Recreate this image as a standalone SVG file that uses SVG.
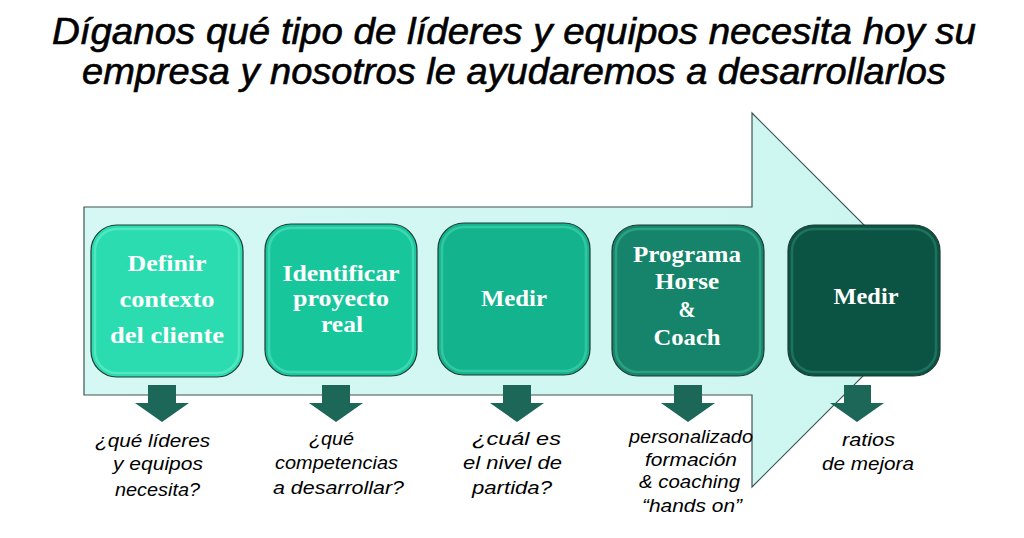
<svg xmlns="http://www.w3.org/2000/svg" width="1024" height="538" viewBox="0 0 1024 538">
<style>
.title{font-family:"Liberation Sans","DejaVu Sans",sans-serif;font-style:italic;font-size:36px;fill:#000;stroke:#000;stroke-width:0.6;text-anchor:start}
.lbl{font-family:"Liberation Serif","DejaVu Serif",serif;font-weight:bold;font-size:24px;fill:#fff;text-anchor:middle}
.note{font-family:"Liberation Sans","DejaVu Sans",sans-serif;font-style:italic;font-size:19px;fill:#000;text-anchor:start}
.box{stroke:#1f3a33;stroke-width:1.2}
.hl{fill:none;stroke-width:2.5;stroke-opacity:0.55}
.dn{fill:#1c6758}
</style>
<defs>
<linearGradient id="bg" x1="0" y1="0" x2="1" y2="0">
<stop offset="0" stop-color="#d6f8f4"/><stop offset="1" stop-color="#cdf6f0"/>
</linearGradient>
</defs>
<rect width="1024" height="538" fill="#fff"/>
<text class="title" x="52" y="44" textLength="924" lengthAdjust="spacingAndGlyphs">Díganos qué tipo de líderes y equipos necesita hoy su</text>
<text class="title" x="82" y="84" textLength="864" lengthAdjust="spacingAndGlyphs">empresa y nosotros le ayudaremos a desarrollarlos</text>
<path id="bigarrow" d="M84,207 H752 V113 L939,300 L752,487 V395 H84 Z" fill="url(#bg)" stroke="#3c5550" stroke-width="1.2"/>
<g id="node1">
<rect class="box" x="91" y="225" width="152" height="152" rx="26" fill="#2adcb0"/>
<rect class="hl" x="95" y="229" width="144" height="144" rx="22" stroke="#6ff0d0"/>
<text class="lbl" x="167" y="271" textLength="79" lengthAdjust="spacingAndGlyphs">Definir</text>
<text class="lbl" x="167" y="307" textLength="95" lengthAdjust="spacingAndGlyphs">contexto</text>
<text class="lbl" x="167" y="343" textLength="114" lengthAdjust="spacingAndGlyphs">del cliente</text>
</g>
<g id="node2">
<rect class="box" x="265" y="224" width="152" height="152" rx="26" fill="#18c69c"/>
<rect class="hl" x="269" y="228" width="144" height="144" rx="22" stroke="#5ce6c2"/>
<text class="lbl" x="341" y="281" textLength="117" lengthAdjust="spacingAndGlyphs">Identificar</text>
<text class="lbl" x="341" y="306" textLength="96" lengthAdjust="spacingAndGlyphs">proyecto</text>
<text class="lbl" x="342" y="332" textLength="42" lengthAdjust="spacingAndGlyphs">real</text>
</g>
<g id="node3">
<rect class="box" x="438" y="223" width="152" height="152" rx="26" fill="#13b48d"/>
<rect class="hl" x="442" y="227" width="144" height="144" rx="22" stroke="#4ad8b2"/>
<text class="lbl" x="514" y="306" textLength="66" lengthAdjust="spacingAndGlyphs">Medir</text>
</g>
<g id="node4">
<rect class="box" x="612" y="225" width="152" height="151" rx="26" fill="#15846a"/>
<rect class="hl" x="616" y="229" width="144" height="143" rx="22" stroke="#40b898"/>
<text class="lbl" x="687" y="262" textLength="108" lengthAdjust="spacingAndGlyphs">Programa</text>
<text class="lbl" x="687" y="289" textLength="64" lengthAdjust="spacingAndGlyphs">Horse</text>
<text class="lbl" x="687" y="317" textLength="17" lengthAdjust="spacingAndGlyphs">&amp;</text>
<text class="lbl" x="687" y="345" textLength="67" lengthAdjust="spacingAndGlyphs">Coach</text>
</g>
<g id="node5">
<rect class="box" x="788" y="225" width="152" height="151" rx="26" fill="#0b5343"/>
<rect class="hl" x="792" y="229" width="144" height="143" rx="22" stroke="#2f8a72"/>
<text class="lbl" x="866" y="304" textLength="65" lengthAdjust="spacingAndGlyphs">Medir</text>
</g>
<g id="connectors">
<path class="dn" d="M148,385 H176 V403 H189 L162,422 L135,403 H148 Z"/>
<path class="dn" d="M322,385 H350 V403 H363 L336,422 L309,403 H322 Z"/>
<path class="dn" d="M503,385 H531 V403 H544 L517,422 L490,403 H503 Z"/>
<path class="dn" d="M674,385 H702 V403 H715 L688,422 L661,403 H674 Z"/>
<path class="dn" d="M844,385 H871 V403 H884 L857,422 L830,403 H844 Z"/>
</g>
<g id="notes">
<text class="note" x="95" y="447" textLength="115" lengthAdjust="spacingAndGlyphs">¿qué líderes</text>
<text class="note" x="113" y="470" textLength="90" lengthAdjust="spacingAndGlyphs">y equipos</text>
<text class="note" x="115" y="496" textLength="85" lengthAdjust="spacingAndGlyphs">necesita?</text>
<text class="note" x="309" y="445" textLength="45" lengthAdjust="spacingAndGlyphs">¿qué</text>
<text class="note" x="275" y="469" textLength="123" lengthAdjust="spacingAndGlyphs">competencias</text>
<text class="note" x="273" y="494" textLength="131" lengthAdjust="spacingAndGlyphs">a desarrollar?</text>
<text class="note" x="472" y="445" textLength="89" lengthAdjust="spacingAndGlyphs">¿cuál es</text>
<text class="note" x="463" y="469" textLength="99" lengthAdjust="spacingAndGlyphs">el nivel de</text>
<text class="note" x="472" y="494" textLength="80" lengthAdjust="spacingAndGlyphs">partida?</text>
<text class="note" x="629" y="443" textLength="124" lengthAdjust="spacingAndGlyphs">personalizado</text>
<text class="note" x="645" y="466" textLength="92" lengthAdjust="spacingAndGlyphs">formación</text>
<text class="note" x="639" y="488" textLength="101" lengthAdjust="spacingAndGlyphs">&amp; coaching</text>
<text class="note" x="642" y="512" textLength="100" lengthAdjust="spacingAndGlyphs">“hands on”</text>
<text class="note" x="842" y="446" textLength="53" lengthAdjust="spacingAndGlyphs">ratios</text>
<text class="note" x="822" y="470" textLength="92" lengthAdjust="spacingAndGlyphs">de mejora</text>
</g>
</svg>
